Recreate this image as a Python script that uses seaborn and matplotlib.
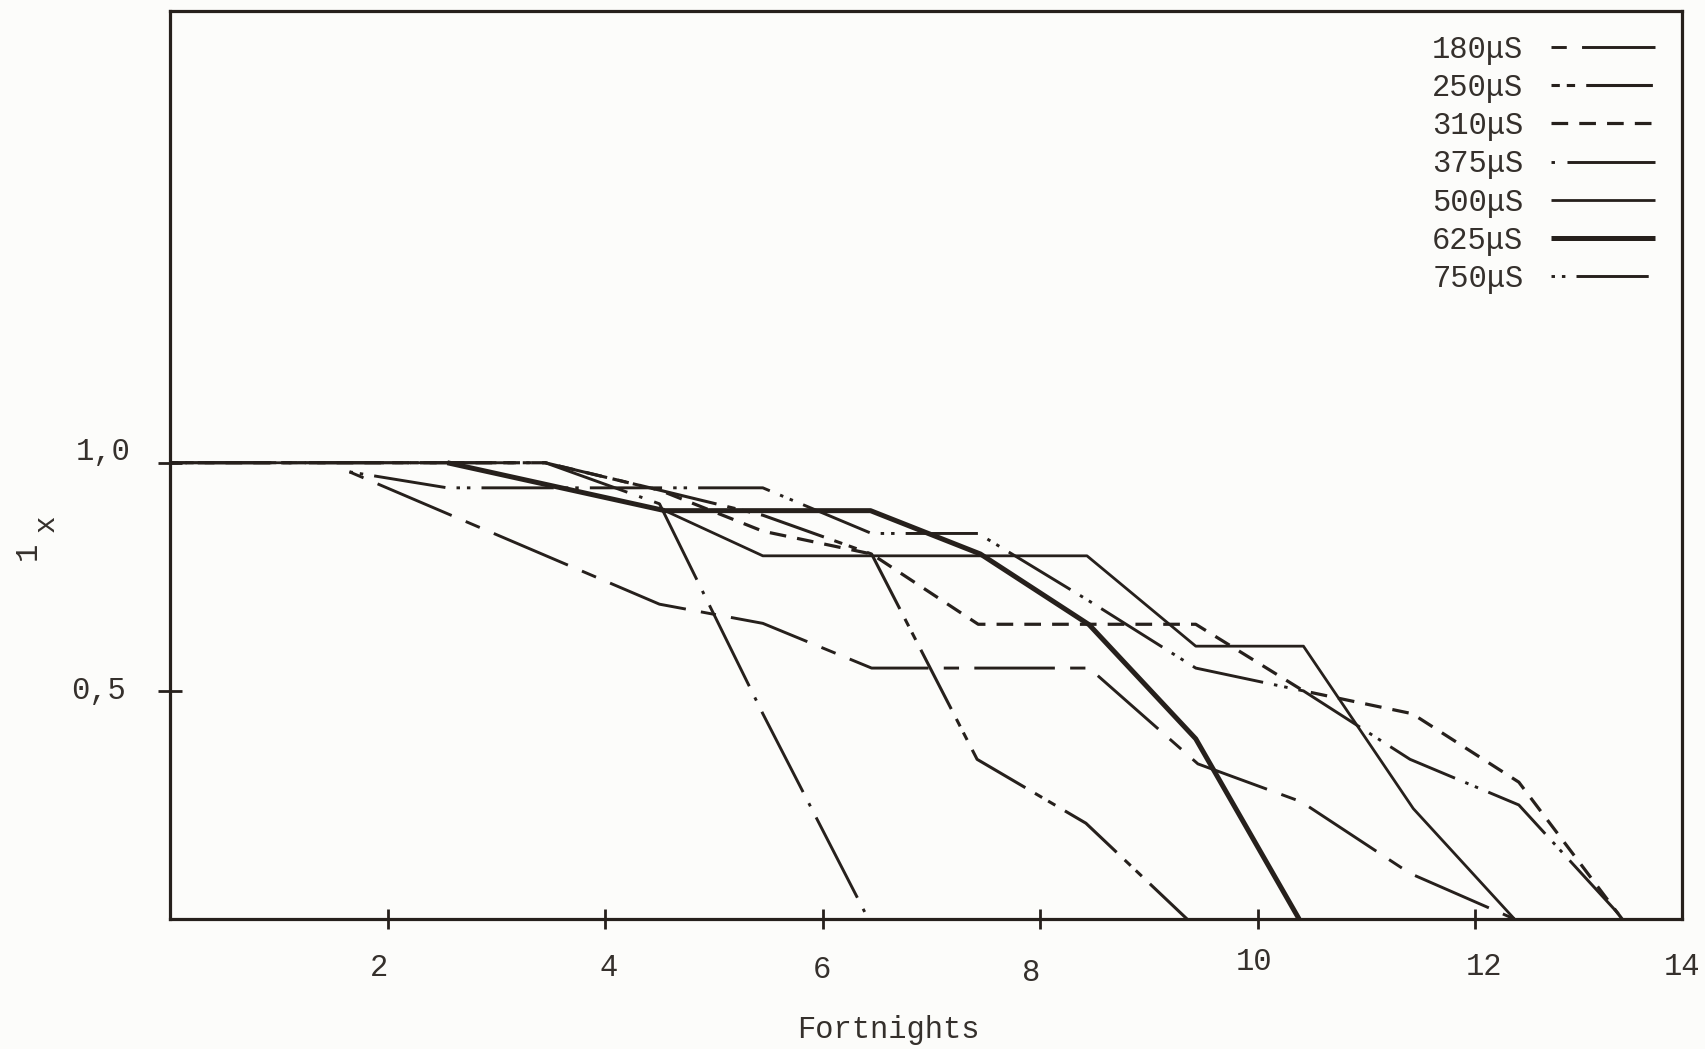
import matplotlib
matplotlib.use("Agg")
import matplotlib.pyplot as plt
import seaborn as sns

# l_x survival curves for each conductivity treatment, by fortnight
x_180 = [1.65, 4.50, 5.45, 6.45, 7.45, 8.45, 9.45, 10.40, 11.40, 12.36]
y_180 = [0.98, 0.69, 0.648, 0.55, 0.55, 0.55, 0.34, 0.257, 0.10, 0.0]

x_250 = [0.0, 3.45, 4.50, 5.45, 6.45, 7.42, 8.42, 9.35]
y_250 = [1.0, 1.0, 0.94, 0.885, 0.80, 0.35, 0.21, 0.0]

x_310 = [0.0, 3.45, 4.50, 5.45, 6.45, 7.43, 8.43, 9.43, 10.42, 11.42, 12.40, 13.35]
y_310 = [1.0, 1.0, 0.94, 0.85, 0.80, 0.646, 0.646, 0.646, 0.50, 0.45, 0.30, 0.0]

x_375 = [0.0, 3.45, 4.50, 5.45, 6.42]
y_375 = [1.0, 1.0, 0.91, 0.45, 0.0]

x_500 = [0.0, 2.55, 4.55, 5.45, 6.45, 7.45, 8.43, 9.43, 10.42, 11.43, 12.36]
y_500 = [1.0, 1.0, 0.895, 0.796, 0.796, 0.796, 0.796, 0.598, 0.598, 0.242, 0.0]

x_625 = [2.55, 4.55, 5.45, 6.44, 7.45, 8.45, 9.43, 10.38]
y_625 = [1.0, 0.895, 0.895, 0.895, 0.80, 0.645, 0.395, 0.0]

x_750 = [1.65, 2.55, 3.45, 4.50, 5.45, 6.45, 7.43, 8.43, 9.43, 10.42, 11.40, 12.40, 13.36]
y_750 = [0.98, 0.945, 0.945, 0.945, 0.945, 0.845, 0.845, 0.70, 0.55, 0.50, 0.35, 0.25, 0.0]

series_labels = ["180μS", "250μS", "310μS", "375μS", "500μS", "625μS", "750μS"]
x_tick_values = [2, 4, 6, 8, 10, 12, 14]
x_tick_labels = ["2", "4", "6", "8", "10", "12", "14"]
y_tick_values = [0.5, 1.0]
y_tick_labels = ["0,5", "1,0"]
x_title = "Fortnights"
y_title_main = "1"
y_title_sub = "x"

# ---- styling -------------------------------------------------------------
sns.set_theme(style="white")
plt.rcParams["font.family"] = ["Liberation Mono", "DejaVu Sans Mono"]
plt.rcParams["lines.scale_dashes"] = False

ink = "#26201c"
text_ink = "#35302c"
paper = "#fcfcfa"

# dash patterns (points): on/off sequences
styles = {
    "180μS": dict(linestyle=(0, (11, 11, 58, 11)), lw=2.1),
    "250μS": dict(linestyle=(0, (6, 5, 6, 8, 48, 8)), lw=2.2),
    "310μS": dict(linestyle=(0, (12, 8)), lw=2.3),
    "375μS": dict(linestyle=(0, (2.5, 9, 65, 9)), lw=2.1),
    "500μS": dict(linestyle="-", lw=2.0),
    "625μS": dict(linestyle="-", lw=3.6),
    "750μS": dict(linestyle=(0, (2.5, 5, 2.5, 8, 52, 8)), lw=2.1),
}

xs = [x_180, x_250, x_310, x_375, x_500, x_625, x_750]
ys = [y_180, y_250, y_310, y_375, y_500, y_625, y_750]

fig = plt.figure(figsize=(17.05, 10.49), dpi=100, facecolor=paper)
ax = fig.add_axes([0.0997, 0.1239, 0.8868, 0.8656])
ax.set_facecolor(paper)

for label, xv, yv in zip(series_labels, xs, ys):
    st = styles[label]
    sns.lineplot(x=xv, y=yv, ax=ax, color=ink, estimator=None, sort=False,
                 linestyle=st["linestyle"], linewidth=st["lw"], label=label,
                 solid_capstyle="butt", dash_capstyle="butt")

ax.set_xlim(0, 13.9)
ax.set_ylim(0, 1.99)

for side in ["left", "right", "top", "bottom"]:
    ax.spines[side].set_visible(True)
    ax.spines[side].set_color(ink)
    ax.spines[side].set_linewidth(2.3)

ax.set_xticks(x_tick_values[:-1])
ax.set_yticks(y_tick_values)
ax.tick_params(axis="x", direction="inout", length=15, width=2.0, color=ink,
               bottom=True, labelbottom=False)
ax.tick_params(axis="y", direction="inout", length=17, width=2.0, color=ink,
               left=True, labelleft=False)
ax.set_xlabel("")
ax.set_ylabel("")
ax.grid(False)

# typed tick labels, each sitting slightly off its tick
fs = 22
x_nudge = [-0.08, 0.03, -0.01, -0.08, -0.03, 0.08, 0.0]
x_drop = [-0.054, -0.054, -0.056, -0.059, -0.047, -0.053, -0.053]
xt = ax.get_xaxis_transform()
for val, lab, dx, yy in zip(x_tick_values, x_tick_labels, x_nudge, x_drop):
    ax.text(val + dx if val < 14 else 13.9, yy, lab, transform=xt, ha="center",
            va="center", fontsize=fs, color=text_ink, clip_on=False)

yt = ax.get_yaxis_transform()
y_shift = [0.0, 0.023]
y_left = [-0.0476, -0.0443]
for val, lab, dy, xx in zip(y_tick_values, y_tick_labels, y_shift, y_left):
    ax.text(xx, val + dy, lab, transform=yt, ha="center", va="center",
            fontsize=fs, color=text_ink, clip_on=False)

ax.text(0.475, -0.122, x_title, transform=ax.transAxes, ha="center",
        va="center", fontsize=fs, color=text_ink)
# rotated "1" with a lowered "x" (rotation puts the subscript to the right)
ax.text(-0.094, 0.405, y_title_main, transform=ax.transAxes, ha="center",
        va="center", rotation=90, fontsize=fs, color=text_ink)
ax.text(-0.082, 0.436, y_title_sub, transform=ax.transAxes, ha="center",
        va="center", rotation=90, fontsize=fs - 1, color=text_ink)

leg = ax.legend(loc="upper right", bbox_to_anchor=(0.982, 0.974),
                frameon=False, markerfirst=False, fontsize=fs,
                handlelength=3.4, handletextpad=0.9, labelspacing=0.27,
                borderpad=0.0, borderaxespad=0.0)
for t in leg.get_texts():
    t.set_color(text_ink)

fig.savefig("out.png", dpi=100, facecolor=paper)
